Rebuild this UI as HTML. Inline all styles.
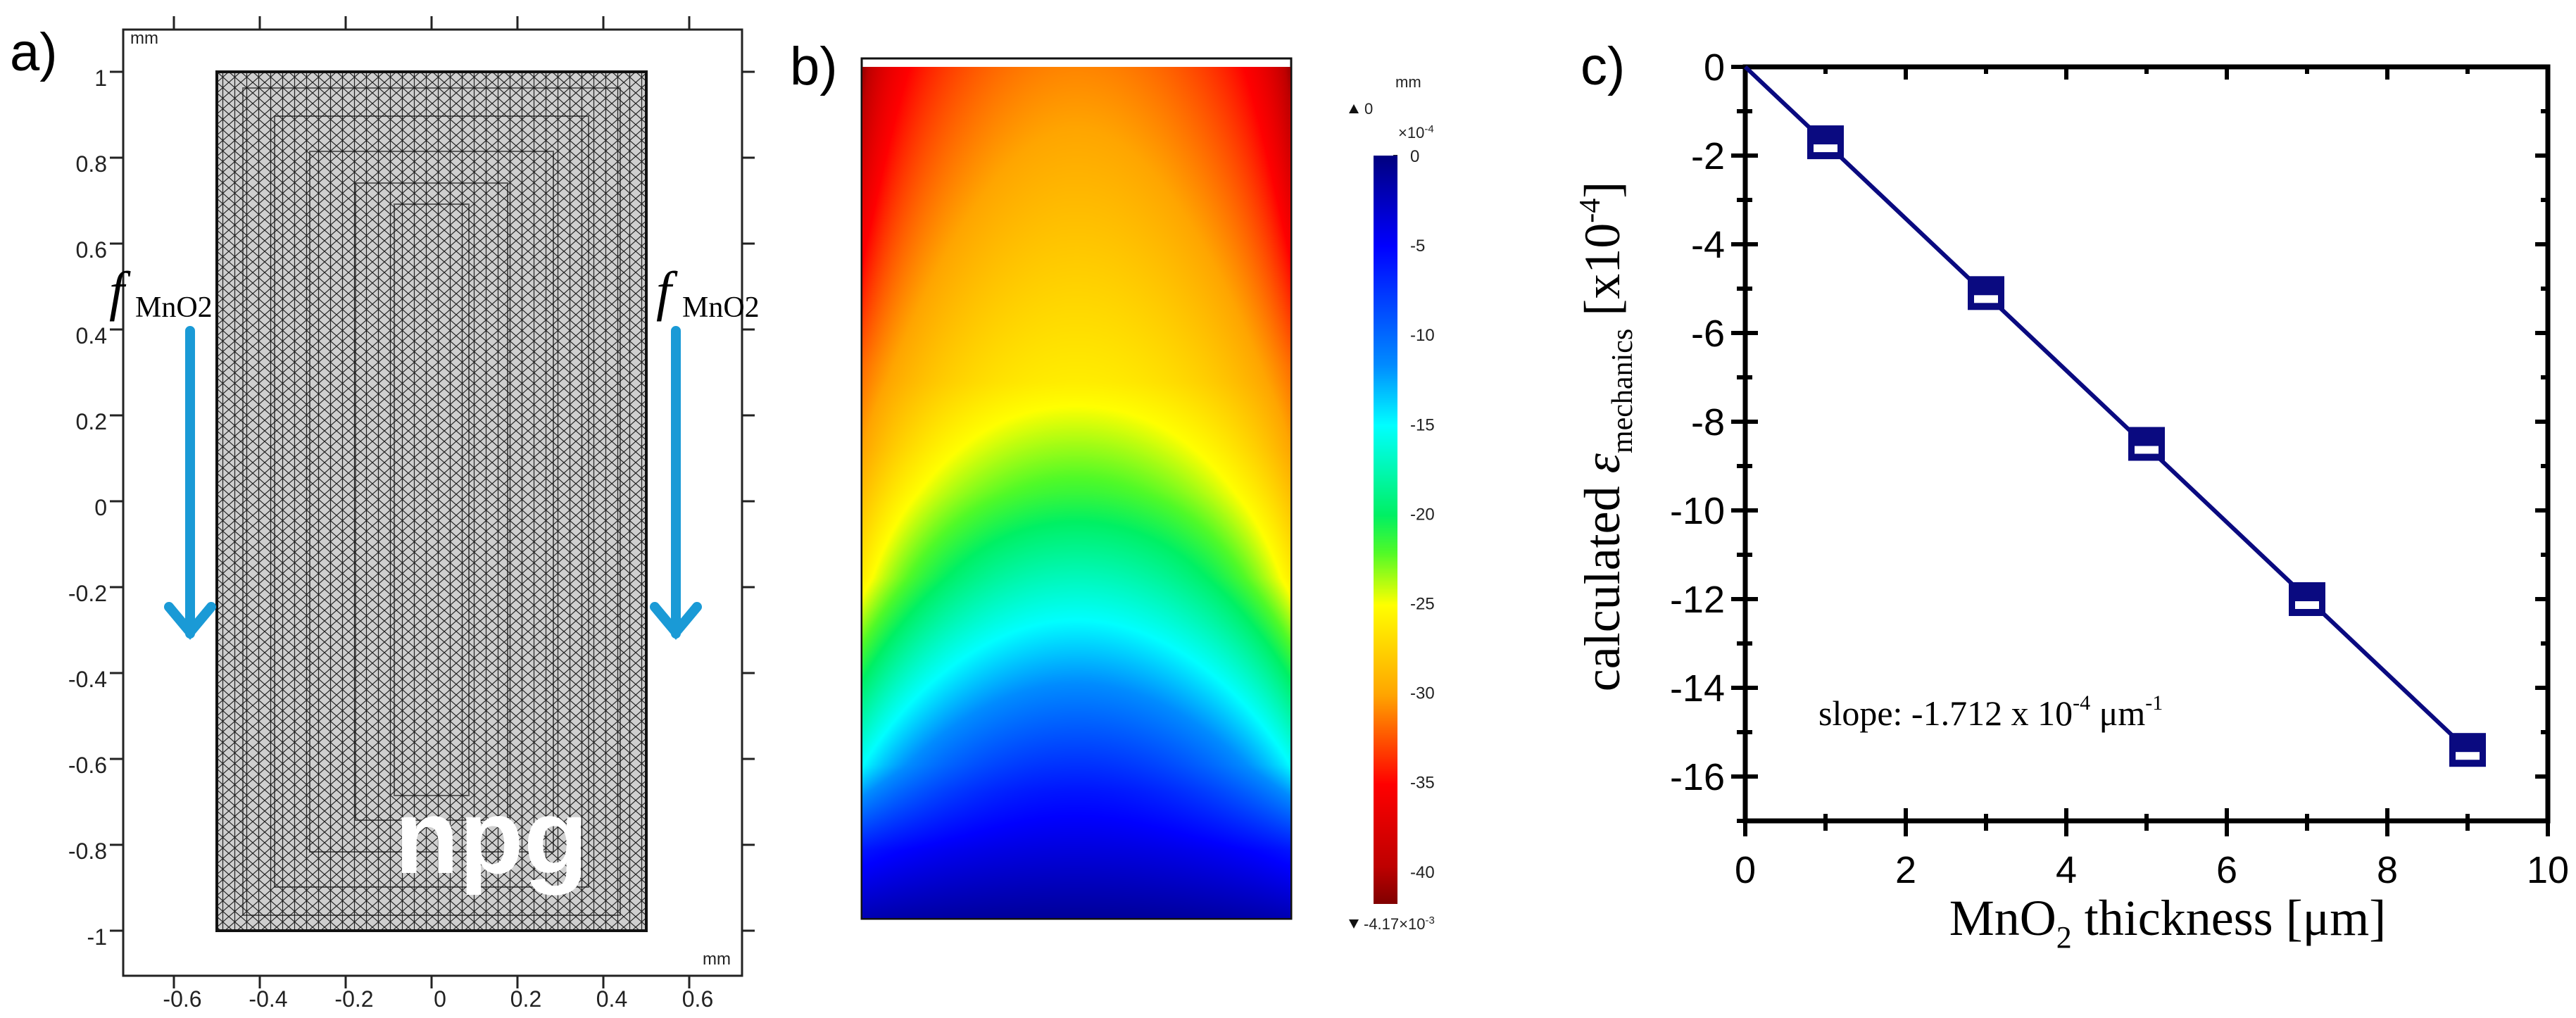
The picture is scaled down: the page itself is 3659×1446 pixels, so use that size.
<!DOCTYPE html>
<html><head><meta charset="utf-8">
<style>
html,body{margin:0;padding:0;background:#fff;}
body{width:3659px;height:1446px;position:relative;overflow:hidden;font-family:"Liberation Sans","DejaVu Sans",sans-serif;}
.abs{position:absolute;}
</style></head>
<body>
<svg class="abs" style="left:0;top:0" width="3659" height="1446">
<defs>
<pattern id="mesh" x="308" y="102" width="17" height="15" patternUnits="userSpaceOnUse">
<rect width="17" height="15" fill="#cfcfcf"/>
<path d="M0 0 L17 15 M17 0 L0 15 M8.5 0 L8.5 15" stroke="#222" stroke-width="1.2" fill="none"/>
</pattern>
</defs>
<!-- Panel a -->
<g>
<text x="14" y="100" font-size="76" font-family="Liberation Sans, sans-serif">a)</text>
<rect x="175" y="42" width="879" height="1344" fill="#fff" stroke="#222" stroke-width="3"/>
<rect x="308" y="102" width="610" height="1220" fill="url(#mesh)" stroke="#111" stroke-width="4"/>
<g fill="none" stroke="#111" stroke-width="2" opacity="0.6">
<rect x="345" y="125" width="536" height="1175"/><rect x="390" y="165" width="446" height="1095"/>
<rect x="440" y="215" width="346" height="995"/><rect x="505" y="260" width="216" height="905"/>
<rect x="560" y="290" width="106" height="840"/>
</g>
<text x="698" y="1240" font-size="150" font-weight="bold" fill="#fff" text-anchor="middle">npg</text>
<g id="aticks" stroke="#222" stroke-width="3"></g>
<g id="alabels" font-size="32" fill="#222"></g>
<text x="185" y="62" font-size="24" fill="#222">mm</text>
<text x="998" y="1370" font-size="24" fill="#222">mm</text>
<g>
<text x="155" y="440" font-size="78" font-style="italic" font-family="Liberation Serif, serif">f</text>
<text x="192" y="450" font-size="42" font-family="Liberation Serif, serif">MnO2</text>
<path d="M270 470 L270 900 M240 862 L270 898 L300 862" stroke="#1a9ad6" stroke-width="14" fill="none" stroke-linecap="round"/>
</g>
<g>
<text x="932" y="440" font-size="78" font-style="italic" font-family="Liberation Serif, serif">f</text>
<text x="969" y="450" font-size="42" font-family="Liberation Serif, serif">MnO2</text>
<path d="M960 470 L960 900 M930 862 L960 898 L990 862" stroke="#1a9ad6" stroke-width="14" fill="none" stroke-linecap="round"/>
</g>
</g>
<!-- Panel b labels -->
<g>
<text x="1122" y="120" font-size="76">b)</text>
<rect x="1224" y="83" width="610" height="1222" fill="#fff" stroke="#111" stroke-width="3"/>
<text x="1982" y="124" font-size="22" fill="#222">mm</text>
<path d="M1916 161 L1930 161 L1923 148 Z" fill="#111"/>
<text x="1938" y="162" font-size="22" fill="#222">0</text>
<text x="1986" y="196" font-size="22" fill="#222">×10<tspan dy="-8" font-size="15">-4</tspan></text>
<path d="M1916 1306 L1930 1306 L1923 1319 Z" fill="#111"/>
<text x="1937" y="1320" font-size="22" fill="#222">-4.17×10<tspan dy="-8" font-size="15">-3</tspan></text>
<g id="cbticks"></g>
</g>
</svg>
<canvas id="heat" class="abs" style="left:1225px;top:95px" width="608" height="1209"></canvas>
<canvas id="cbar" class="abs" style="left:1951px;top:221px" width="34" height="1063"></canvas>

<svg id="chartc" class="abs" style="left:0;top:0;pointer-events:none" width="3659" height="1446">
<text x="2245" y="120" font-size="76">c)</text>
<g id="cg"></g>
</svg>

<script>
// ---------- Panel c data ----------
const thicknessValues = [1, 3, 5, 7, 9];
const strainValues = [-1.7, -5.1, -8.5, -12.0, -15.4];
const fitStart = [0, 0];
const fitEnd = [9, -15.4];
const xTickLabels = ["0","2","4","6","8","10"];
const yTickLabels = ["0","-2","-4","-6","-8","-10","-12","-14","-16"];
const colorbarLabels = ["0","-5","-10","-15","-20","-25","-30","-35","-40"];
const aTickLabels = ["-0.6","-0.4","-0.2","0","0.2","0.4","0.6"];
const aYTickLabels = ["1","0.8","0.6","0.4","0.2","0","-0.2","-0.4","-0.6","-0.8","-1"];

const NS="http://www.w3.org/2000/svg";
function mk(tag, attrs, parent){const e=document.createElementNS(NS,tag);for(const k in attrs)e.setAttribute(k,attrs[k]);parent.appendChild(e);return e;}

// ---------- Panel a ticks ----------
(function(){
  const tg=document.getElementById('aticks'), lg=document.getElementById('alabels');
  const ax=v=>613+v*610, ay=v=>712-v*610;
  aTickLabels.forEach(l=>{
    const v=parseFloat(l), x=ax(v);
    mk('line',{x1:x,y1:23,x2:x,y2:42},tg);
    mk('line',{x1:x,y1:1386,x2:x,y2:1404},tg);
    const t=mk('text',{x:x+12,y:1430,'text-anchor':'middle'},lg);t.textContent=l;
    
    
  });
  aYTickLabels.forEach(l=>{
    const v=parseFloat(l), y=ay(v);
    mk('line',{x1:156,y1:y,x2:175,y2:y},tg);
    mk('line',{x1:1054,y1:y,x2:1072,y2:y},tg);
    const t=mk('text',{x:152,y:y+20,'text-anchor':'end'},lg);t.textContent=l;
    
    
  });
})();

// ---------- Colormap ----------
const cmapStops=[[0,[0,0,128]],[0.12,[0,0,255]],[0.28,[0,140,255]],[0.36,[0,255,255]],[0.48,[0,240,100]],[0.53,[80,250,40]],[0.6,[255,255,0]],[0.72,[255,165,0]],[0.84,[255,0,0]],[0.95,[190,0,0]],[1,[128,0,0]]];
function cmap(f){f=Math.max(0,Math.min(1,f));for(let i=1;i<cmapStops.length;i++){if(f<=cmapStops[i][0]){const a=cmapStops[i-1],b=cmapStops[i];const t=(f-a[0])/(b[0]-a[0]);return a[1].map((c,j)=>Math.round(c+(b[1][j]-c)*t));}}return cmapStops[cmapStops.length-1][1];}
function interp(arr,t){for(let i=1;i<arr.length;i++){if(t<=arr[i][0]){const a=arr[i-1],b=arr[i];return a[1]+(b[1]-a[1])*(t-a[0])/(b[0]-a[0]);}}return arr[arr.length-1][1];}
const centerProfile=[[0,31],[0.37,26],[0.5,21.5],[0.65,15],[0.85,6],[1,1]];
const edgeProfile=[[0,38],[0.45,30],[0.6,26],[0.7,21],[0.82,15],[0.92,6],[1,2]];
(function(){
  const c=document.getElementById('heat'),ctx=c.getContext('2d');const W=c.width,H=c.height;
  const img=ctx.createImageData(W,H);
  for(let y=0;y<H;y++){const t=y/H;const mc=interp(centerProfile,t),me=interp(edgeProfile,t);
    for(let x=0;x<W;x++){const s=(x/W)*2-1;const w=0.85*s*s+0.15*Math.pow(s,6);
      let m=mc+(me-mc)*w; if(t<0.35) m+= (1-t/0.35)*3*Math.pow(Math.abs(s),12);
      const col=cmap(m/41.7);const i=(y*W+x)*4;img.data[i]=col[0];img.data[i+1]=col[1];img.data[i+2]=col[2];img.data[i+3]=255;}}
  ctx.putImageData(img,0,0);
  const b=document.getElementById('cbar'),bx=b.getContext('2d');
  for(let y=0;y<b.height;y++){const col=cmap(y/b.height);bx.fillStyle=`rgb(${col})`;bx.fillRect(0,y,b.width,1);}
  const g=document.getElementById('cbticks');
  colorbarLabels.forEach(l=>{const y=221+(-parseFloat(l))*25.42;
    mk('line',{x1:1979,y1:y,x2:1985,y2:y,stroke:'#222','stroke-width':2},g);
    const t=mk('text',{x:2003,y:y+9,'font-size':24,fill:'#222'},g);t.textContent=l;
    
    
  });
})();

// ---------- Panel c chart ----------
(function(){
  const g=document.getElementById('cg');
  const X0=2479,X1=3619,Y0=95,Y1=1166;
  const sx=v=>X0+(v-0)*(X1-X0)/10, sy=v=>Y0+(0-v)*(Y1-Y0)/17;
  for(let v=0;v<=10;v++){const x=sx(v),maj=v%2===0;
    mk('line',{x1:x,y1:Y1-(maj?18:10),x2:x,y2:Y1+(maj?22:14),stroke:'#000','stroke-width':6},g);
    mk('line',{x1:x,y1:Y0,x2:x,y2:Y0+(maj?18:10),stroke:'#000','stroke-width':6},g);}
  for(let v=0;v>=-17;v--){const y=sy(v),maj=v%2===0;
    mk('line',{x1:X0-(maj?20:12),y1:y,x2:X0+(maj?18:10),y2:y,stroke:'#000','stroke-width':6},g);
    mk('line',{x1:X1-(maj?18:10),y1:y,x2:X1,y2:y,stroke:'#000','stroke-width':6},g);}
  const fr=mk('rect',{x:X0,y:Y0,width:X1-X0,height:Y1-Y0,fill:'none',stroke:'#000','stroke-width':7},g);
  
  
  xTickLabels.forEach((l,i)=>{const t=mk('text',{x:sx(parseFloat(l)),y:1254,'font-size':54,'text-anchor':'middle','font-family':'Liberation Sans, sans-serif'},g);t.textContent=l;
    
    });
  yTickLabels.forEach(l=>{const t=mk('text',{x:2450,y:sy(parseFloat(l))+19,'font-size':54,'text-anchor':'end','font-family':'Liberation Sans, sans-serif'},g);t.textContent=l;
    
    });
  const ln=mk('line',{x1:sx(fitStart[0]),y1:sy(fitStart[1]),x2:sx(fitEnd[0]),y2:sy(fitEnd[1]),stroke:'#0a0a80','stroke-width':6},g);
  
  
  thicknessValues.forEach((v,i)=>{const x=sx(v),y=sy(strainValues[i]);
    const r=mk('rect',{x:x-26,y:y-24,width:52,height:48,fill:'#0a0a80'},g);
    
    
    mk('rect',{x:x-17,y:y+3,width:34,height:11,fill:'#fff'},g);});
  const sl=mk('text',{x:2583,y:1030,'font-size':50,'font-family':'Liberation Serif, serif'},g);
  sl.innerHTML='slope: -1.712 x 10<tspan dy="-22" font-size="30">-4</tspan><tspan dy="22"> μm</tspan><tspan dy="-22" font-size="30">-1</tspan>';
  
  
  const xt=mk('text',{x:3079,y:1328,'font-size':72,'text-anchor':'middle','font-family':'Liberation Serif, serif'},g);
  xt.innerHTML='MnO<tspan dy="18" font-size="44">2</tspan><tspan dy="-18"> thickness [μm]</tspan>';
  
  
  const yt=mk('text',{x:0,y:0,'font-size':72,'text-anchor':'middle','font-family':'Liberation Serif, serif',transform:'translate(2300,620) rotate(-90)'},g);
  yt.innerHTML='calculated <tspan font-style="italic">ε</tspan><tspan dy="18" font-size="42">mechanics</tspan><tspan dy="-18"> [x10</tspan><tspan dy="-28" font-size="42">-4</tspan><tspan dy="28">]</tspan>';
  
  
})();
</script>
</body></html>
